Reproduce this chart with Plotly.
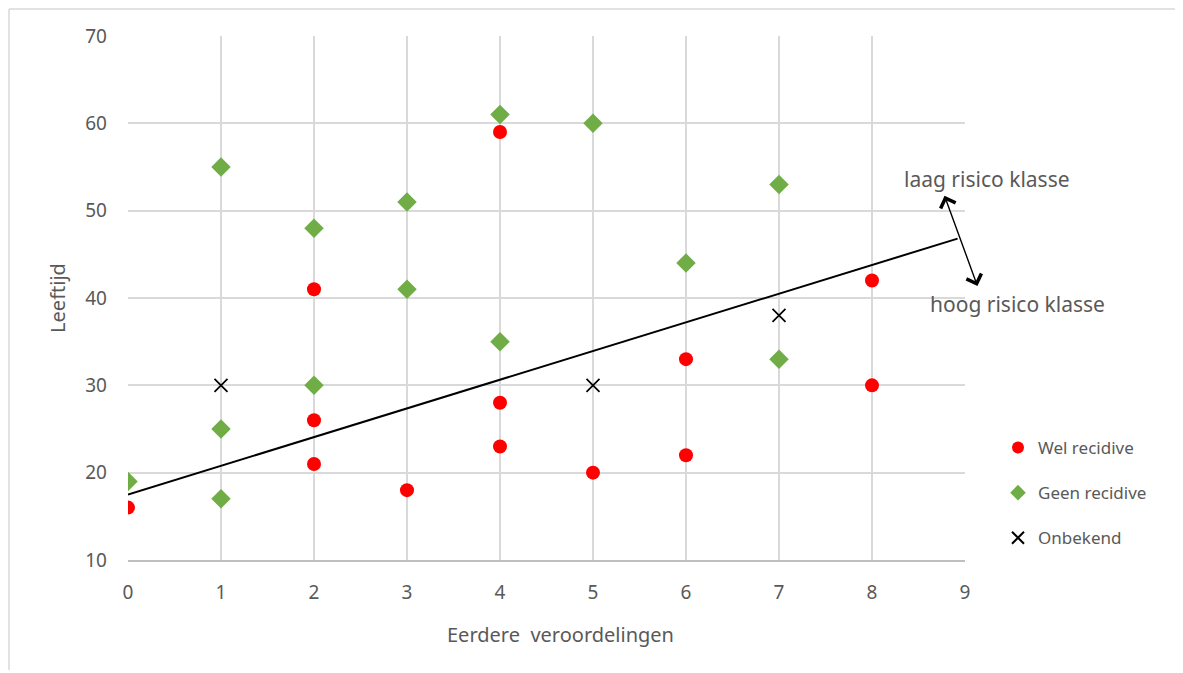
import plotly.graph_objects as go

# Data
wel_x = [0, 2, 2, 2, 3, 4, 4, 4, 5, 6, 6, 8, 8]
wel_y = [16, 41, 26, 21, 18, 59, 28, 23, 20, 33, 22, 42, 30]
geen_x = [0, 1, 1, 1, 2, 2, 3, 3, 4, 4, 5, 6, 7, 7]
geen_y = [19, 55, 25, 17, 48, 30, 51, 41, 61, 35, 60, 44, 53, 33]
onb_x = [1, 5, 7]
onb_y = [30, 30, 38]
line_x = [0, 8.92]
line_y = [17.5, 46.8]
arrow_top = (8.78, 51.7)
arrow_bottom = (9.14, 41.2)
x_ticks = [0, 1, 2, 3, 4, 5, 6, 7, 8, 9]
y_ticks = [10, 20, 30, 40, 50, 60, 70]

FONT = "Noto Sans"
GREY = "#595959"

W, H = 1175, 665
L, R, T, B = 120, 218, 28, 113
PW = W - L - R
PH = H - T - B


def px(xp):
    return (xp - L) / PW


def py(yp):
    return (H - B - yp) / PH


fig = go.Figure()
fig.add_trace(go.Scatter(x=line_x, y=line_y, mode="lines",
                         line=dict(color="black", width=2), showlegend=False,
                         hoverinfo="skip"))
fig.add_trace(go.Scatter(x=wel_x, y=wel_y, mode="markers", name="Wel recidive",
                         legendgroup="a",
                         marker=dict(symbol="circle", size=14, color="#ff0000")))
fig.add_trace(go.Scatter(x=geen_x, y=geen_y, mode="markers", name="Geen recidive",
                         legendgroup="b",
                         marker=dict(symbol="diamond", size=15, color="#70ad47")))
fig.add_trace(go.Scatter(x=onb_x, y=onb_y, mode="markers", name="Onbekend",
                         legendgroup="c",
                         marker=dict(symbol="x-thin", size=13, color="black",
                                     line=dict(color="black", width=1.7))))

# double-headed arrow
fig.add_annotation(x=arrow_top[0], y=arrow_top[1], ax=arrow_bottom[0], ay=arrow_bottom[1],
                   xref="x", yref="y", axref="x", ayref="y", text="", showarrow=True,
                   arrowhead=4, startarrowhead=4, arrowside="end+start",
                   arrowsize=2.2, startarrowsize=2.2, arrowwidth=1.4,
                   arrowcolor="black")
fig.add_annotation(x=px(979), y=py(171), xref="paper", yref="paper",
                   xanchor="center", yanchor="middle",
                   text="laag risico klasse", showarrow=False,
                   font=dict(family=FONT, size=21, color=GREY))
fig.add_annotation(x=px(1010), y=py(296), xref="paper", yref="paper",
                   xanchor="center", yanchor="middle",
                   text="hoog risico klasse", showarrow=False,
                   font=dict(family=FONT, size=21, color=GREY))
# x axis title (centred slightly right of the plot centre, as in the reference)
fig.add_annotation(x=px(552), y=py(626), xref="paper", yref="paper",
                   xanchor="center", yanchor="middle",
                   text="Eerdere  veroordelingen", showarrow=False,
                   font=dict(family=FONT, size=20, color=GREY))

# outer chart border (top and left)
fig.add_shape(type="line", xref="paper", yref="paper",
              x0=px(1), x1=px(W), y0=py(1), y1=py(1),
              line=dict(color="#d9d9d9", width=1.5))
fig.add_shape(type="line", xref="paper", yref="paper",
              x0=px(1), x1=px(1), y0=py(1), y1=py(662),
              line=dict(color="#d9d9d9", width=1.5))

fig.update_layout(
    width=W, height=H,
    margin=dict(l=L, r=R, t=T, b=B),
    paper_bgcolor="white", plot_bgcolor="white",
    font=dict(family=FONT, size=18, color=GREY),
    legend=dict(x=px(990), y=py(422), xanchor="left", yanchor="top",
                font=dict(family=FONT, size=17, color=GREY),
                traceorder="grouped", tracegroupgap=20,
                itemsizing="constant", bgcolor="rgba(0,0,0,0)"),
    xaxis=dict(range=[0, 9], tickvals=x_ticks, showgrid=True,
               gridcolor="#d9d9d9", gridwidth=1.5, zeroline=False,
               showline=True, linecolor="#bfbfbf", linewidth=1.5,
               ticks="", ticklabelstandoff=14,
               tickfont=dict(size=19, color=GREY)),
    yaxis=dict(range=[10, 70], tickvals=y_ticks, showgrid=True,
               gridcolor="#d9d9d9", gridwidth=1.5, zeroline=False,
               showline=False, ticks="", ticklabelstandoff=20,
               tickfont=dict(size=19, color=GREY),
               title=dict(text="Leeftijd", standoff=14,
                          font=dict(size=20, color=GREY))),
)

fig.write_html("out.html")
